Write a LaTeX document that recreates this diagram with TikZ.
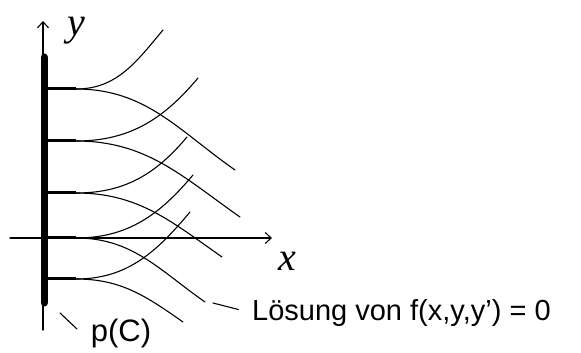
\documentclass[tikz,border=0pt]{standalone}
\usepackage{fontspec}
\setmainfont{Liberation Sans}
\newfontfamily\axfont{Liberation Serif}
\usetikzlibrary{arrows.meta}
\begin{document}
\begin{tikzpicture}[x=1pt, y=1pt, line join=round, line cap=round, >={Straight Barb[length=6pt,width=11pt]}, sol/.style={line width=1.1pt}, lbl/.style={inner sep=0pt}, axlbl/.style={lbl, font=\axfont\itshape\fontsize{40}{40}\selectfont}] \def\xb{44} \def\xs{76}
	\useasboundingbox (0,0) rectangle (581,353);
	\draw[->, line width=1.1pt] (10,115)--(272,115);
	\draw[->, line width=1.1pt] (43,23)--(43,332);
	\draw[line width=7pt] (\xb,50)--(\xb,296);
	\foreach \yb/\ux/\uy/\dx/\dy in {264/163/323/235/183, 212/198/275/240/136, 160/187/216/222/96, 115/193/178/205/51, 74/190/141/183/31}{
		\draw[line width=3pt, line cap=butt] (\xb,\yb)--(\xs,\yb);
		\draw[sol] (\xs,\yb) to[out=0, in=230] (\ux,\uy);
		\draw[sol] (\xs,\yb) to[out=0, in=145] (\dx,\dy);
	}
	\node[axlbl] (ylab) at (76,322) {y};
	\node[axlbl] (xlab) at (287,92) {x};
	\node[lbl, anchor=west, font=\fontsize{29}{29}\selectfont] (sol) at (252,40) {Lösung von f(x,y,y') = 0};
	\node[lbl, font=\fontsize{31}{31}\selectfont] (pc) at (121,20) {p(C)};
	\coordinate (solTip) at (213,50);
	\coordinate (pcTip) at (60,40);
	\draw[line width=1.1pt, shorten >=14pt] (solTip)--(sol.west);
	\draw[line width=1.1pt] (pcTip)--(77,24);
\end{tikzpicture}
\end{document}
